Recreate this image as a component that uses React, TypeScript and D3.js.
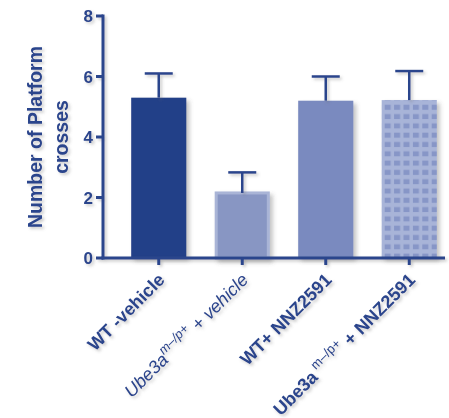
import React from "react";
import * as d3 from "d3";

const categories = ["WT-vehicle", "Ube3a-vehicle", "WT-NNZ2591", "Ube3a-NNZ2591"];
const means = [5.3, 2.15, 5.2, 5.22];
const errorsUp = [0.8, 0.68, 0.8, 0.96];
const yTicks = [0, 2, 4, 6, 8];

const W = 449;
const H = 418;
const AX = "#2a448c";
const FONT = "'Liberation Sans', Arial, sans-serif";

export default function App() {
  const y = d3.scaleLinear().domain([0, 8]).range([258, 16]);
  const x = d3
    .scaleBand<string>()
    .domain(categories)
    .range([117, 451])
    .paddingInner(0.34)
    .paddingOuter(0.17);
  const bw = x.bandwidth();
  const x0 = 103;
  const y0 = y(0);

  const fills = ["#233f88", "#8896c3", "#7a8abf", "url(#grid)"];
  const strokes = ["none", "#a9b4d6", "none", "none"];

  const labelY = 281;
  const lx = (i: number) => x(categories[i])! + bw / 2 + 7;

  return (
    <div style={{ position: "absolute", left: 0, top: 0 }}>
      <svg width={W} height={H} style={{ display: "block", fontFamily: FONT }}>
        <defs>
          <filter id="sh" x="-20%" y="-20%" width="150%" height="150%">
            <feDropShadow dx="3" dy="3" stdDeviation="2" floodColor="#555" floodOpacity="0.35" />
          </filter>
          <filter id="tsh" x="-20%" y="-20%" width="150%" height="150%">
            <feDropShadow dx="2" dy="2" stdDeviation="1.5" floodColor="#666" floodOpacity="0.35" />
          </filter>
          <pattern id="grid" patternUnits="userSpaceOnUse" x={x(categories[3])! + 3} y={0} width={9.4} height={9.3}>
            <rect x={0} y={0} width={9.4} height={9.3} fill="#a8b4d8" />
            <rect x={0} y={2.5} width={6} height={5} fill="#8796c7" />
          </pattern>
        </defs>

        {/* bars */}
        <g filter="url(#sh)">
          {categories.map((c, i) => {
            const sw = strokes[i] === "none" ? 0 : 3;
            return (
              <rect
                key={c}
                x={x(c)! + sw / 2}
                y={y(means[i])}
                width={bw - sw}
                height={y0 - y(means[i])}
                fill={fills[i]}
                stroke={strokes[i]}
                strokeWidth={sw}
              />
            );
          })}
        </g>

        {/* error bars */}
        <g stroke={AX} strokeWidth={2.5} fill="none" filter="url(#tsh)">
          {categories.map((c, i) => {
            const cx = x(c)! + bw / 2;
            const top = y(means[i] + errorsUp[i]);
            return (
              <g key={c}>
                <line x1={cx} x2={cx} y1={y(means[i])} y2={top} />
                <line x1={cx - 14} x2={cx + 14} y1={top} y2={top} />
              </g>
            );
          })}
        </g>

        {/* axes */}
        <g stroke={AX} strokeWidth={3} fill="none" filter="url(#tsh)">
          <line x1={x0} x2={x0} y1={y(8) - 1.5} y2={y0 + 1.5} />
          <line x1={x0 - 1.5} x2={445} y1={y0} y2={y0} />
          {yTicks.map((t) => (
            <line key={t} x1={x0 - 7} x2={x0} y1={y(t)} y2={y(t)} />
          ))}
          {categories.map((c) => (
            <line key={c} x1={x(c)! + bw / 2} x2={x(c)! + bw / 2} y1={y0} y2={y0 + 7} />
          ))}
        </g>

        {/* y tick labels */}
        <g fill={AX} fontWeight="bold" fontSize={17} textAnchor="end" filter="url(#tsh)">
          {yTicks.map((t) => (
            <text key={t} x={93} y={y(t)} dy="0.36em">
              {t}
            </text>
          ))}
        </g>

        {/* y axis title */}
        <g fill={AX} fontWeight="bold" fontSize={19.5} textAnchor="middle" filter="url(#tsh)">
          <text transform={`translate(42,137) rotate(-90)`}>Number of Platform</text>
          <text transform={`translate(68,137) rotate(-90)`}>crosses</text>
        </g>

        {/* x labels */}
        <g fill={AX} fontSize={18} textAnchor="end" filter="url(#tsh)">
          <text transform={`translate(${lx(0)},${labelY}) rotate(-45)`} fontWeight="bold">
            WT -vehicle
          </text>
          <text transform={`translate(${lx(1)},${labelY}) rotate(-45)`} fontStyle="italic">
            <tspan>Ube3a</tspan>
            <tspan dy={-8} fontSize={13}>m–/p+</tspan>
            <tspan dy={8}>{"  + vehicle"}</tspan>
          </text>
          <text transform={`translate(${lx(2)},${labelY}) rotate(-45)`} fontWeight="bold">
            WT+ NNZ2591
          </text>
          <text transform={`translate(${lx(3)},${labelY}) rotate(-45)`}>
            <tspan fontWeight="bold">Ube3a</tspan>
            <tspan dy={-8} fontSize={13}>{" m–/p+"}</tspan>
            <tspan dy={8} fontWeight="bold">{"  + NNZ2591"}</tspan>
          </text>
        </g>
      </svg>
    </div>
  );
}
